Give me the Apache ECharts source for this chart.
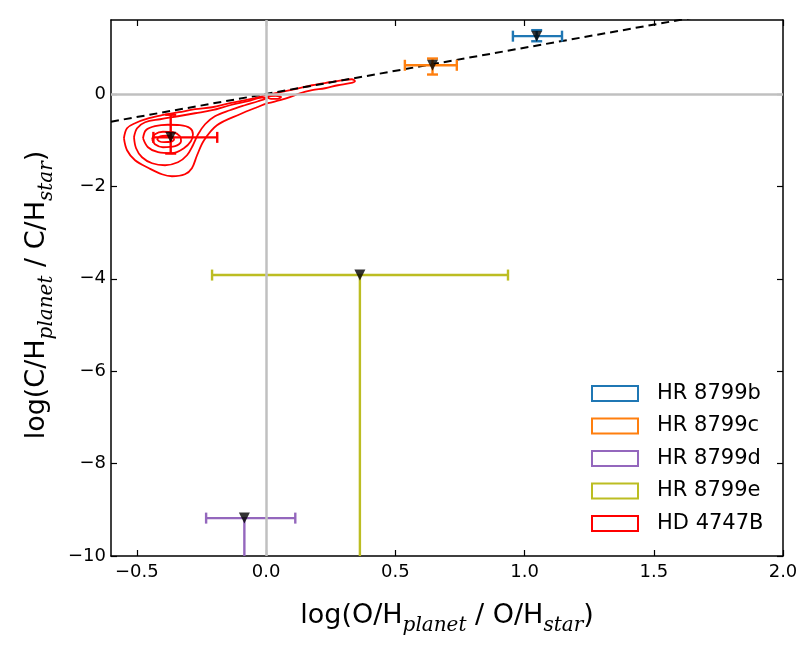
<!DOCTYPE html>
<html>
<head>
<meta charset="UTF-8">
<title>log(C/H) vs log(O/H)</title>
<script src="https://cdn.jsdelivr.net/npm/echarts@6.0.0/dist/echarts.min.js"></script>
<style>
  html, body { margin: 0; padding: 0; background: #fff; }
  #chart { width: 805px; height: 664px; }
</style>
</head>
<body>
<div id="chart"></div>
<script type="text/javascript">

  // values
  var planetNames = ['HR 8799b', 'HR 8799c', 'HR 8799d', 'HR 8799e', 'HD 4747B'];
  var logOH    = [1.047, 0.644, -0.084, 0.363, -0.369];
  var logCH    = [1.25, 0.62, -9.18, -3.92, -0.94];
  var logOHlo  = [0.955, 0.537, -0.232, -0.209, -0.436];
  var logOHhi  = [1.145, 0.738, 0.113, 0.936, -0.189];
  var logCHlo  = [1.14, 0.42, -10.8, -10.8, -1.29];
  var logCHhi  = [1.38, 0.766, -9.18, -3.92, -0.45];
  var upperLim = [0, 0, 1, 1, 0];

  var xTicks = [-0.5, 0, 0.5, 1, 1.5, 2];
  var yTicks = [-10, -8, -6, -4, -2, 0];

  // 1:1 line
  var oneToOne = [[-0.6, -0.6], [2.0, 2.0]];

  // HD 4747B posterior contours (outer -> inner)
  var contour1 = [[-0.550,-0.959],[-0.538,-0.742],[-0.507,-0.634],[-0.453,-0.526],[-0.403,-0.461],[-0.337,-0.396],
    [-0.275,-0.331],[-0.209,-0.288],[-0.140,-0.201],[-0.062,-0.115],[0.000,-0.028],[0.054,0.037],[0.112,0.102],
    [0.178,0.188],[0.247,0.253],[0.297,0.297],[0.332,0.318],[0.344,0.275],[0.325,0.232],[0.278,0.188],[0.228,0.123],
    [0.178,0.080],[0.131,0.015],[0.092,-0.071],[0.054,-0.136],[0.007,-0.201],[-0.035,-0.288],[-0.101,-0.439],
    [-0.190,-0.677],[-0.240,-1.002],[-0.267,-1.327],[-0.287,-1.608],[-0.314,-1.738],[-0.364,-1.781],[-0.403,-1.738],
    [-0.453,-1.608],[-0.507,-1.435],[-0.538,-1.219],[-0.550,-0.959]];
  var contour2 = [[-0.511,-0.937],[-0.499,-0.742],[-0.468,-0.613],[-0.410,-0.548],[-0.341,-0.483],[-0.275,-0.418],
    [-0.209,-0.353],[-0.140,-0.245],[-0.070,-0.158],[-0.016,-0.082],[0.000,-0.093],[-0.031,-0.158],[-0.082,-0.245],
    [-0.140,-0.353],[-0.198,-0.483],[-0.236,-0.656],[-0.263,-0.872],[-0.283,-1.110],[-0.306,-1.327],[-0.341,-1.478],
    [-0.391,-1.543],[-0.441,-1.500],[-0.480,-1.370],[-0.503,-1.175],[-0.511,-0.937]];
  var contour3 = [[-0.476,-0.959],[-0.465,-0.786],[-0.430,-0.699],[-0.380,-0.667],[-0.333,-0.677],[-0.294,-0.742],
    [-0.283,-0.872],[-0.291,-1.024],[-0.318,-1.175],[-0.364,-1.284],[-0.418,-1.262],[-0.457,-1.154],[-0.476,-0.959]];
  var contour4 = [[-0.441,-0.981],[-0.430,-0.872],[-0.399,-0.818],[-0.360,-0.829],[-0.333,-0.916],[-0.329,-1.024],
    [-0.352,-1.132],[-0.399,-1.154],[-0.430,-1.089],[-0.441,-0.981]];
  var contour5 = [[-0.422,-0.970],[-0.410,-0.916],[-0.387,-0.905],[-0.364,-0.926],[-0.356,-0.981],[-0.368,-1.035],
    [-0.395,-1.045],[-0.414,-1.024],[-0.422,-0.970]];
  var island = [[0.003,-0.071],[0.015,-0.045],[0.038,-0.043],[0.058,-0.067],[0.046,-0.106],[0.019,-0.106],[0.003,-0.071]];

  var colors = ['#1f77b4', '#ff7f0e', '#9467bd', '#bcbd22', '#ff0000'];

  function minus(s) { return String(s).replace('-', '\u2212'); }

  function renderErrorBar(params, api) {
    var x = api.value(0), y = api.value(1);
    var pl = api.coord([api.value(2), y]), ph = api.coord([api.value(3), y]);
    var pb = api.coord([x, api.value(4)]), pt = api.coord([x, api.value(5)]);
    var cap = 5.5;
    var style = { stroke: api.visual('color'), lineWidth: 2.4, fill: null };
    var kids = [
      { type: 'line', shape: { x1: pl[0], y1: pl[1], x2: ph[0], y2: ph[1] }, style: style },
      { type: 'line', shape: { x1: pl[0], y1: pl[1] - cap, x2: pl[0], y2: pl[1] + cap }, style: style },
      { type: 'line', shape: { x1: ph[0], y1: ph[1] - cap, x2: ph[0], y2: ph[1] + cap }, style: style },
      { type: 'line', shape: { x1: pb[0], y1: pb[1], x2: pt[0], y2: pt[1] }, style: style }
    ];
    if (!api.value(6)) {
      kids.push({ type: 'line', shape: { x1: pb[0] - cap, y1: pb[1], x2: pb[0] + cap, y2: pb[1] }, style: style });
      kids.push({ type: 'line', shape: { x1: pt[0] - cap, y1: pt[1], x2: pt[0] + cap, y2: pt[1] }, style: style });
    }
    return { type: 'group', children: kids };
  }

  var series = [];

  // grey zero lines
  series.push({
    type: 'line', data: [], z: 1, silent: true,
    markLine: {
      silent: true, symbol: ['none', 'none'], animation: false,
      label: { show: false },
      lineStyle: { color: '#c0c0c0', width: 2.5, type: 'solid' },
      data: [{ xAxis: 0 }, { yAxis: 0 }]
    }
  });

  // contours
  [contour1, contour2, contour3, contour4, contour5, island].forEach(function (c) {
    series.push({
      name: 'HD 4747B', type: 'line', data: c, smooth: 0.35, symbol: 'none', z: 2,
      lineStyle: { color: colors[4], width: 1.8 }, itemStyle: { color: colors[4] }
    });
  });

  // dashed 1:1
  series.push({
    type: 'line', data: oneToOne, symbol: 'none', z: 3,
    lineStyle: { color: '#000', width: 2, type: [8, 5] }
  });

  // error bars
  planetNames.forEach(function (n, i) {
    series.push({
      name: n, type: 'custom', clip: true, z: 4,
      itemStyle: { color: colors[i] },
      renderItem: renderErrorBar,
      data: [[logOH[i], logCH[i], logOHlo[i], logOHhi[i], logCHlo[i], logCHhi[i], upperLim[i]]]
    });
  });

  // markers
  series.push({
    type: 'scatter', z: 5, symbol: 'triangle', symbolRotate: 180, symbolSize: 11,
    itemStyle: { color: '#000' },
    data: logOH.map(function (v, i) { return [v, logCH[i]]; })
  });

  var titleRich = {
    a: { fontFamily: 'DejaVu Sans', fontSize: 27, color: '#000', lineHeight: 40, verticalAlign: 'middle' },
    s: { fontFamily: 'DejaVu Serif', fontStyle: 'italic', fontSize: 20, color: '#000', lineHeight: 40, verticalAlign: 'bottom' }
  };

  var tickFont = { fontFamily: 'DejaVu Sans', fontSize: 18, color: '#000' };
  var frame = { show: true, onZero: false, lineStyle: { color: '#000', width: 1.5 } };
  var tick = { inside: true, length: 6, lineStyle: { color: '#000', width: 1.2 } };

  var option = {
    animation: false,
    backgroundColor: '#fff',
    grid: { left: 111, top: 20, right: 22, bottom: 108 },
    legend: {
      orient: 'vertical', left: 586, top: 378,
      itemWidth: 46, itemHeight: 15, itemGap: 11.5,
      textStyle: { fontFamily: 'DejaVu Sans', fontSize: 21, color: '#000', lineHeight: 20, padding: [0, 0, 0, 14] },
      data: planetNames.map(function (n, i) {
        return { name: n, icon: 'rect', itemStyle: { color: '#fff', borderColor: colors[i], borderWidth: 2 } };
      })
    },
    xAxis: [{
      type: 'value', min: -0.6, max: 2.0, position: 'bottom',
      name: '{a|log(O/H}{s|planet}{a| / O/H}{s|star}{a|)}',
      nameLocation: 'middle', nameGap: 40,
      nameTextStyle: { rich: titleRich },
      axisLine: frame,
      axisTick: Object.assign({ customValues: xTicks }, tick),
      axisLabel: Object.assign({ margin: 7, customValues: xTicks, formatter: function (v) { return minus(v.toFixed(1)); } }, tickFont),
      splitLine: { show: false }
    }, {
      type: 'value', min: -0.6, max: 2.0, position: 'top',
      axisLine: frame,
      axisTick: Object.assign({ customValues: xTicks }, tick),
      axisLabel: { show: false },
      splitLine: { show: false }
    }],
    yAxis: [{
      type: 'value', min: -10, max: 1.6, position: 'left',
      name: '{a|log(C/H}{s|planet}{a| / C/H}{s|star}{a|)}',
      nameLocation: 'middle', nameGap: 50,
      nameTextStyle: { rich: titleRich, padding: [0, 14, 0, 0] },
      axisLine: frame,
      axisTick: Object.assign({ customValues: yTicks }, tick),
      axisLabel: Object.assign({ margin: 5, customValues: yTicks, formatter: function (v) { return minus(v); } }, tickFont),
      splitLine: { show: false }
    }, {
      type: 'value', min: -10, max: 1.6, position: 'right',
      axisLine: frame,
      axisTick: Object.assign({ customValues: yTicks }, tick),
      axisLabel: { show: false },
      splitLine: { show: false }
    }],
    series: series
  };

  var myChart = echarts.init(document.getElementById('chart'));
  myChart.setOption(option);

</script>
</body>
</html>
